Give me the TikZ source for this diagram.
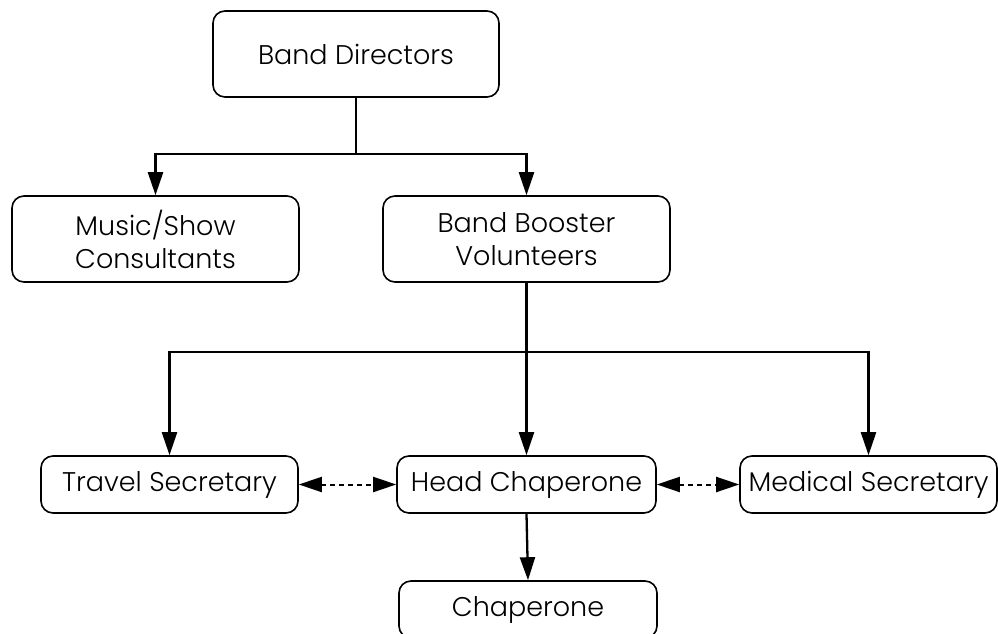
\documentclass[tikz,border=0pt]{standalone}
\usepackage{fontspec}
\setmainfont{Poppins Light}
\usetikzlibrary{arrows.meta}
\tikzset{
  box/.style={draw=black, line width=1.6pt, rounded corners=12pt, align=center,
    inner sep=0pt, font=\fontsize{27}{33}\selectfont, text=black},
  conn/.style={line width=2.3pt, draw=black},
  arr/.style={conn, -{Triangle[length=23pt,width=15pt]}},
  darr/.style={line width=2pt, dash pattern=on 5pt off 4pt,
    {Triangle[length=23pt,width=15pt]}-{Triangle[length=23pt,width=15pt]}},
}
\begin{document}
\begin{tikzpicture}[x=1pt,y=-1pt]
\useasboundingbox (0,0) rectangle (998,634);
\clip (0,0) rectangle (998,634);
\node[box, minimum width=286pt, minimum height=86pt] (bd) at (356,54) {Band Directors};
\node[box, minimum width=287pt, minimum height=86pt] (ms) at (155.5,239) {Music/Show\\Consultants};
\node[box, minimum width=287pt, minimum height=86pt] (bb) at (526.5,239) {Band Booster\\Volunteers};
\node[box, minimum width=257pt, minimum height=57pt] (ts) at (169.5,484.5) {Travel Secretary};
\node[box, minimum width=259pt, minimum height=57pt] (hc) at (526.5,484.5) {Head Chaperone};
\node[box, minimum width=257pt, minimum height=57pt] (med) at (868.5,484.5) {Medical Secretary};
\node[box, minimum width=258pt, minimum height=57pt] (ch) at (528,609.5) {Chaperone};
\coordinate (j1) at (356,154);
\coordinate (j2) at (526.5,352);
\draw[conn] (bd.south) -- (j1);
\draw[arr] (j1) -| (ms.north);
\draw[arr] (j1) -| (bb.north);
\draw[conn] (bb.south) -- (j2);
\draw[arr] (j2) -| (ts.north);
\draw[arr] (j2) -- (hc.north);
\draw[arr] (j2) -| (med.north);
\draw[arr] (hc.south) -- (ch.north);
\draw[darr] (ts.east) -- (hc.west);
\draw[darr] (hc.east) -- (med.west);
\end{tikzpicture}
\end{document}
